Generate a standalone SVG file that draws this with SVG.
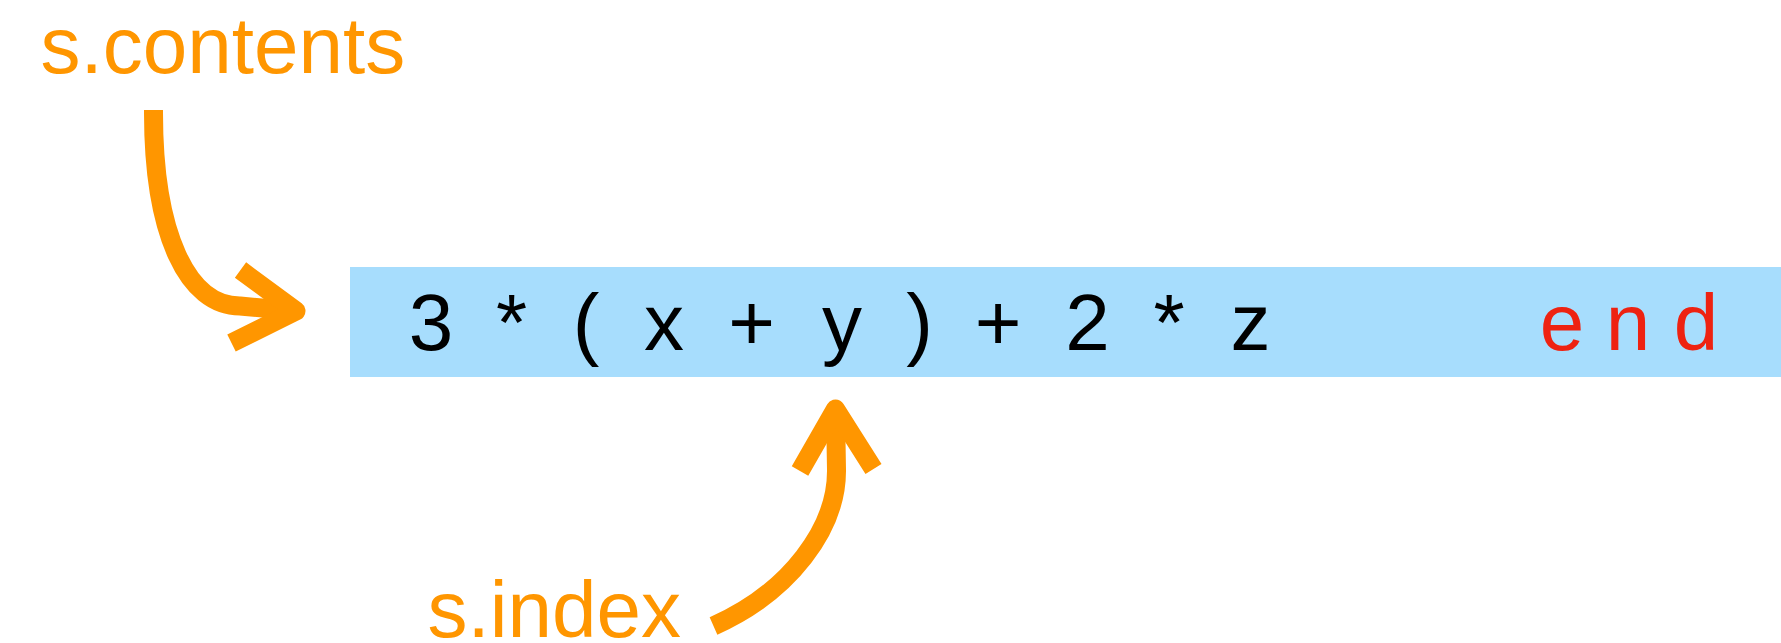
<svg xmlns="http://www.w3.org/2000/svg" width="1781" height="643" viewBox="0 0 1781 643">
<style>
.lbl{font-family:"Liberation Sans",Arial,sans-serif;font-size:80px;fill:#FF9600}
.tok{font-family:"Liberation Sans",Arial,sans-serif;font-size:80px;fill:#000;text-anchor:middle}
.end{fill:#EE2211}
.arr{fill:none;stroke:#FF9600;stroke-width:19;stroke-linecap:butt;stroke-linejoin:round}
</style>
<rect width="1781" height="643" fill="#FFFFFF"/>
<g id="label-contents">
<text class="lbl" x="40.5" y="73">s.contents</text>
</g>
<g id="label-index">
<text class="lbl" x="427.5" y="637">s.index</text>
</g>
<g id="stream">
<rect x="350" y="267" width="1431" height="110" fill="#A7DDFD"/>
<text class="tok" x="431" y="350">3</text>
<text class="tok" x="511.5" y="350">*</text>
<text class="tok" x="586" y="350">(</text>
<text class="tok" x="664" y="350">x</text>
<text class="tok" x="751.5" y="350">+</text>
<text class="tok" x="842" y="350">y</text>
<text class="tok" x="919.5" y="350">)</text>
<text class="tok" x="998" y="350">+</text>
<text class="tok" x="1087.5" y="350">2</text>
<text class="tok" x="1169" y="350">*</text>
<text class="tok" x="1250.5" y="350">z</text>
<text class="tok end" x="1562" y="350">e</text>
<text class="tok end" x="1628" y="350">n</text>
<text class="tok end" x="1696" y="350">d</text>
</g>
<g id="connectors">
<path class="arr" d="M153.5,110 C153,235 188,306 240,306 L296,311"/>
<polyline class="arr" points="240.5,270 296,311 231.5,343"/>
<path class="arr" d="M713.5,626 C790,592 837,528 836.5,470 L835.5,410"/>
<polyline class="arr" points="800,471 835.5,409 873.5,469"/>
</g>
</svg>
